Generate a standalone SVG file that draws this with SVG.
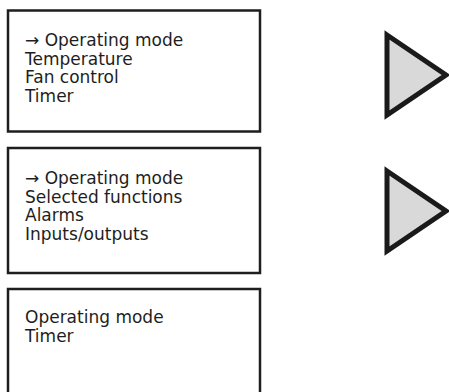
<svg xmlns="http://www.w3.org/2000/svg" width="449" height="392" viewBox="0 0 449 392">
<style>
.box{fill:#fff;stroke:#1e1e1e;stroke-width:2.5}
.tri{fill:#d9d9d9;stroke:#1a1a1a;stroke-width:5;stroke-linejoin:miter}
text{font-family:"DejaVu Sans",sans-serif;font-size:17px;fill:#1e1e1e}
</style>
<rect width="449" height="392" fill="#fff"/>
<g id="box1">
<rect class="box" x="8" y="10.5" width="252" height="121"/>
<text x="25" y="46">→ Operating mode</text>
<text x="25" y="64.5">Temperature</text>
<text x="25" y="83">Fan control</text>
<text x="25" y="101.5">Timer</text>
</g>
<g id="box2">
<rect class="box" x="8" y="148" width="252" height="125"/>
<text x="25" y="184">→ Operating mode</text>
<text x="25" y="202.5">Selected functions</text>
<text x="25" y="221">Alarms</text>
<text x="25" y="239.5">Inputs/outputs</text>
</g>
<g id="box3">
<rect class="box" x="8" y="289" width="252" height="120"/>
<text x="25" y="323">Operating mode</text>
<text x="25" y="341.5">Timer</text>
</g>
<g id="connectors">
<polygon id="next1" class="tri" points="387,35 446,75 387,115"/>
<polygon id="next2" class="tri" points="387,171 446,211 387,251"/>
</g>
</svg>
